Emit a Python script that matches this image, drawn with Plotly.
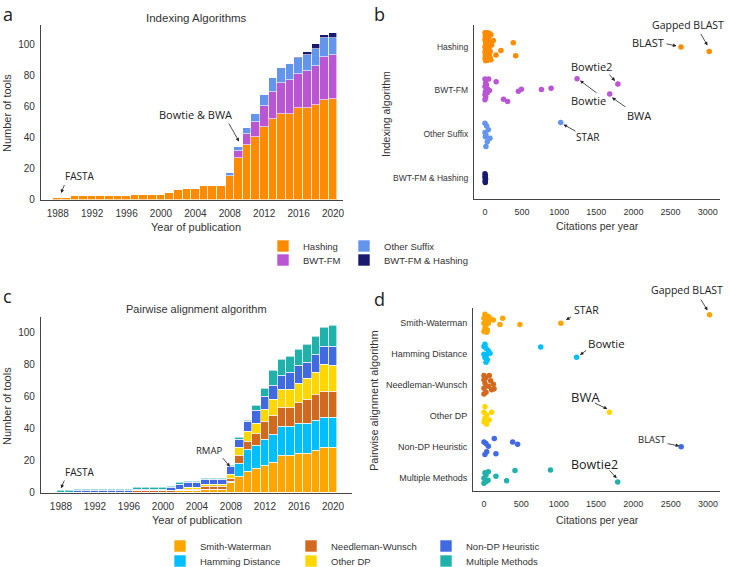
import plotly.graph_objects as go

W, H = 729, 567
FONT = "Liberation Sans, Arial, sans-serif"
AFONT = "Open Sans, Noto Sans, sans-serif"
TXT = "#333333"

years = list(range(1988, 2021))

# ---------------- Panel a: indexing algorithms (counts per year) -------------
idx_names = ["Hashing", "BWT-FM", "Other Suffix", "BWT-FM & Hashing"]
idx_colors = ["#FF8C00", "#BA55D3", "#6495ED", "#191970"]
a_hashing = [1, 1, 2, 2, 2, 2, 2, 2, 2, 3, 3, 3, 3, 4, 6, 7, 7, 9, 9, 9,
             15, 27, 35, 40, 47, 52, 55, 55, 59, 59, 61, 64, 65]
a_bwtfm = [0] * 20 + [0, 4, 7, 10, 13, 17, 20, 22, 22, 24, 25, 28, 28]
a_suffix = [0] * 20 + [2, 3, 4, 5, 7, 9, 10, 10, 10, 10, 11, 12, 11]
a_bwthash = [0] * 20 + [0, 0, 0, 0, 0, 0, 0, 0, 1, 2, 3, 2, 3]

# ---------------- Panel c: pairwise alignment (counts per year) --------------
pw_names = ["Smith-Waterman", "Hamming Distance", "Needleman-Wunsch",
            "Other DP", "Non-DP Heuristic", "Multiple Methods"]
pw_colors = ["#FFA500", "#00BFFF", "#D2691E", "#FFD700", "#4169E1", "#20B2AA"]
c_sw = [0] * 14 + [1, 1, 1, 2, 2, 2, 6, 10, 13, 15, 17, 19, 23, 23, 24, 24, 26, 28, 28]
c_ham = [0] * 20 + [1, 8, 14, 14, 16, 17, 18, 18, 19, 19, 19, 19, 19]
c_nw = [0] * 9 + [1] * 5 + [1] * 3 + [2] * 3 + [2, 5, 5, 8, 11, 12, 12, 12, 13, 15, 16, 16, 16]
c_odp = [0] * 15 + [1] * 2 + [1] * 3 + [2, 5, 6, 6, 8, 10, 11, 11, 12, 13, 14, 17, 16]
c_ndp = [0] * 2 + [1] * 11 + [2] + [3] * 6 + [5, 5, 6, 8, 8, 9, 9, 11, 11, 10, 11, 11, 12]
c_mult = [1] * 20 + [1, 1, 1, 3, 5, 9, 10, 10, 10, 11, 11, 12, 13]

# ---------------- Panel b: citations per year by indexing algorithm ----------
b_cats = ["BWT-FM & Hashing", "Other Suffix", "BWT-FM", "Hashing"]  # bottom -> top
b_hash_cit = [0, 18, 40, 62, 80, 5, 28, 50, 0, 20, 42, 112, 10, 35, 58, 0, 22, 48, 90,
              8, 30, 55, 215, 0, 20, 44, 70, 6, 32, 60, 148, 0, 18, 40, 66, 10, 35, 80,
              381, 413, 2640, 3020]
b_hash_jit = [.32, .31, .32, .3, .27, .24, .22, .23, .16, .15, .17, .14, .08, .07, .09,
              0, .02, -.01, .04, -.06, -.08, -.05, -.09, -.13, -.14, -.12, -.11,
              -.2, -.2, -.18, -.19, -.27, -.26, -.28, -.25, -.32, -.31, -.3,
              .09, -.21, -.01, -.11]
b_bwt_cit = [0, 50, 10, 150, 0, 15, 40, 60, 5, 0, 0, 20, 30, 10, 250, 305, 450, 490,
             760, 890, 1240, 1680, 1790]
b_bwt_jit = [.26, .26, .17, .2, .09, .06, .02, 0, -.03, -.1, -.21, .12, -.05, -.15,
             -.2, -.25, -.02, .03, .02, .05, .27, -.08, .15]
b_suf_cit = [0, 22, 45, 0, 13, 67, 31, 13, 5, 1020]
b_suf_jit = [.25, .19, .1, .04, -.02, -.09, -.17, -.28, -.06, .27]
b_bh_cit = [0, 5, 0, 8, 2, 4]
b_bh_jit = [.1, .06, .02, -.02, -.06, -.1]

# ---------------- Panel d: citations per year by pairwise algorithm ----------
d_cats = ["Multiple Methods", "Non-DP Heuristic", "Other DP",
          "Needleman-Wunsch", "Hamming Distance", "Smith-Waterman"]  # bottom -> top
d_sw_cit = [13, 58, 0, 36, 89, 0, 27, 58, 13, 45, 0, 36, 125, 250, 214, 481, 1030, 3020]
d_sw_jit = [.29, .22, .16, .11, .14, 0, -.05, 0, -.16, -.22, -.27, -.29, .11, .16,
            -.04, -.04, 0, .28]
d_ham_cit = [13, 0, 27, 58, 80, 0, 36, 13, 45, 27, 760, 1240]
d_ham_jit = [.32, .25, .19, .11, .03, 0, -.02, -.11, -.18, -.26, .23, -.1]
d_nw_cit = [0, 71, 0, 89, 13, 125, 58, 0, 103, 27, 0, 20, 135]
d_nw_jit = [.31, .31, .17, .14, .06, .03, -.04, -.1, -.15, -.23, -.29, .22, -.12]
d_odp_cit = [13, 0, 103, 36, 13, 71, 0, 36, 20, 1680]
d_odp_jit = [.3, .12, .12, .03, -.08, -.13, -.2, -.27, -.05, .12]
d_ndp_cit = [0, 26, 138, 58, 384, 450, 36, 13, 160, 2640]
d_ndp_jit = [.16, .11, .27, .02, .16, .08, -.16, -.25, -.22, 0]
d_mult_cit = [13, 58, 27, 0, 55, 0, 160, 415, 303, 890, 1790, 30]
d_mult_jit = [.16, .19, .09, -.02, -.08, -.18, .05, .23, -.1, .25, -.14, -.12]

fig = go.Figure()

# ---- bars panel a
a_series = [a_hashing, a_bwtfm, a_suffix, a_bwthash]
a_legends = ["legend", "legend2", "legend", "legend2"]
a_lw = [36, 36, 90, 90]
for name, vals, col, lg, lw in zip(idx_names, a_series, idx_colors, a_legends, a_lw):
    fig.add_trace(go.Bar(x=years, y=vals, name=name, width=1, legendwidth=lw,
                         marker=dict(color=col, line=dict(color="white", width=0.6)),
                         xaxis="x", yaxis="y", legend=lg, hoverinfo="skip"))

# ---- bars panel c
c_series = [c_sw, c_ham, c_nw, c_odp, c_ndp, c_mult]
c_legends = ["legend3", "legend4", "legend3", "legend4", "legend3", "legend4"]
c_lw = [86, 86, 90, 90, 100, 100]
for name, vals, col, lg, lw in zip(pw_names, c_series, pw_colors, c_legends, c_lw):
    fig.add_trace(go.Bar(x=years, y=vals, name=name, width=1, legendwidth=lw,
                         marker=dict(color=col, line=dict(color="white", width=0.6)),
                         xaxis="x3", yaxis="y3", legend=lg, hoverinfo="skip"))

# ---- strip plots
b_groups = [(b_bh_cit, b_bh_jit, idx_colors[3]), (b_suf_cit, b_suf_jit, idx_colors[2]),
            (b_bwt_cit, b_bwt_jit, idx_colors[1]), (b_hash_cit, b_hash_jit, idx_colors[0])]
for i, (cit, jit, col) in enumerate(b_groups):
    fig.add_trace(go.Scatter(x=cit, y=[i + j for j in jit], mode="markers",
                             marker=dict(color=col, size=5.5, line=dict(width=0)),
                             xaxis="x2", yaxis="y2", showlegend=False, hoverinfo="skip"))

d_groups = [(d_mult_cit, d_mult_jit, pw_colors[5]), (d_ndp_cit, d_ndp_jit, pw_colors[4]),
            (d_odp_cit, d_odp_jit, pw_colors[3]), (d_nw_cit, d_nw_jit, pw_colors[2]),
            (d_ham_cit, d_ham_jit, pw_colors[1]), (d_sw_cit, d_sw_jit, pw_colors[0])]
for i, (cit, jit, col) in enumerate(d_groups):
    fig.add_trace(go.Scatter(x=cit, y=[i + j for j in jit], mode="markers",
                             marker=dict(color=col, size=5.5, line=dict(width=0)),
                             xaxis="x4", yaxis="y4", showlegend=False, hoverinfo="skip"))


def PX(p):
    return p / W


def PY(p):
    return 1 - p / H


ax_common = dict(showline=True, linecolor="#444444", linewidth=1.3, showgrid=False,
                 zeroline=False, ticks="", fixedrange=True,
                 tickfont=dict(family=FONT, size=10, color=TXT))
small9 = {**ax_common, "tickfont": dict(family=FONT, size=9, color=TXT)}
small85 = {**ax_common, "tickfont": dict(family=FONT, size=8.5, color=TXT)}

fig.update_layout(
    width=W, height=H, margin=dict(l=0, r=0, t=0, b=0, autoexpand=False),
    paper_bgcolor="white", plot_bgcolor="white", barmode="stack", bargap=0,
    font=dict(family=FONT, color=TXT),
    xaxis=dict(domain=[PX(41), PX(343)], range=[1986.05, 2021.16], anchor="y",
               tickvals=list(range(1988, 2021, 4)), tickformat="d",
               ticklabelstandoff=4, **ax_common),
    yaxis=dict(domain=[PY(199.5), PY(25)], range=[0, 112.4], anchor="x",
               tickvals=[0, 20, 40, 60, 80, 100], ticklabelstandoff=3, **ax_common),
    xaxis2=dict(domain=[PX(474), PX(720)], range=[-148, 3165], anchor="y2",
                tickvals=[0, 500, 1000, 1500, 2000, 2500, 3000], tickformat="d",
                ticklabelstandoff=4, **small9),
    yaxis2=dict(domain=[PY(199.3), PY(25)], range=[-0.486, 3.495], anchor="x2",
                tickvals=[0, 1, 2, 3], ticktext=b_cats, ticklabelstandoff=3, **small85),
    xaxis3=dict(domain=[PX(41), PX(351.7)], range=[1985.65, 2022.2], anchor="y3",
                tickvals=list(range(1988, 2021, 4)), tickformat="d",
                ticklabelstandoff=4, **ax_common),
    yaxis3=dict(domain=[PY(492.7), PY(316.7)], range=[0, 109.7], anchor="x3",
                tickvals=[0, 20, 40, 60, 80, 100], ticklabelstandoff=3, **ax_common),
    xaxis4=dict(domain=[PX(473.3), PX(720)], range=[-143, 3160], anchor="y4",
                tickvals=[0, 500, 1000, 1500, 2000, 2500, 3000], tickformat="d",
                ticklabelstandoff=4, **small9),
    yaxis4=dict(domain=[PY(491), PY(308.3)], range=[-0.43, 5.485], anchor="x4",
                tickvals=[0, 1, 2, 3, 4, 5], ticktext=d_cats, ticklabelstandoff=3, **small9),
)

leg_common = dict(orientation="h", xanchor="left", yanchor="middle",
                  font=dict(family=FONT, size=9.5, color=TXT), bgcolor="rgba(0,0,0,0)",
                  entrywidthmode="pixels", itemwidth=30, traceorder="normal",
                  itemclick=False, itemdoubleclick=False)
fig.update_layout(
    legend=dict(x=PX(263), y=PY(246), **leg_common),
    legend2=dict(x=PX(263), y=PY(260), **leg_common),
    legend3=dict(x=PX(160), y=PY(546), **leg_common),
    legend4=dict(x=PX(160), y=PY(561), **leg_common),
)

annos = []


def text(x, y, s, size, family=AFONT, color="#222222", angle=0, yanchor="middle"):
    annos.append(dict(x=PX(x), y=PY(y), xref="paper", yref="paper", text=s,
                      showarrow=False, textangle=angle, xanchor="center", yanchor=yanchor,
                      font=dict(family=family, size=size, color=color)))


def arrow(tx, ty, hx, hy):
    annos.append(dict(x=PX(hx), y=PY(hy), xref="paper", yref="paper", text="",
                      showarrow=True, ax=tx - hx, ay=ty - hy, arrowhead=2, arrowsize=0.9,
                      arrowwidth=0.8, arrowcolor="#222222", standoff=0, startstandoff=0))


# panel letters
text(8, 0, "a", 18, yanchor="top")
text(379, 0, "b", 18, yanchor="top")
text(8, 282, "c", 18, yanchor="top")
text(379, 285, "d", 18, yanchor="top")

# titles & axis titles
text(196, 18, "Indexing Algorithms", 11.5, FONT, TXT)
text(196.5, 309, "Pairwise alignment algorithm", 11, FONT, TXT)
text(196, 226.5, "Year of publication", 11, FONT, TXT)
text(196.5, 519.5, "Year of publication", 11, FONT, TXT)
text(7, 113, "Number of tools", 11, FONT, TXT, -90)
text(7, 406, "Number of tools", 11, FONT, TXT, -90)
text(597, 225.5, "Citations per year", 10.5, FONT, TXT)
text(597, 519.5, "Citations per year", 10.5, FONT, TXT)
text(386, 114, "Indexing algorithm", 10.5, FONT, TXT, -90)
text(374, 401, "Pairwise alignment algorithm", 11, FONT, TXT, -90)

# panel a labels
text(79, 176.5, "FASTA", 10)
arrow(65, 183.5, 61, 193)
text(195, 114, "Bowtie &amp; BWA", 11)
arrow(228, 122, 239, 141.5)

# panel c labels
text(79, 471.7, "FASTA", 10)
arrow(65, 479, 61, 488.3)
text(209, 450.5, "RMAP", 9.5)
arrow(221.5, 456.5, 230, 466.7)

# panel b labels
text(688, 25, "Gapped BLAST", 10.5)
arrow(700, 32.5, 707.5, 45.5)
text(647.5, 42.7, "BLAST", 11)
arrow(665, 43.5, 676.5, 46)
text(591, 66, "Bowtie2", 11)
arrow(608, 73, 615, 81)
text(588, 101, "Bowtie", 11)
arrow(598, 94, 580, 80.5)
text(639, 115, "BWA", 11)
arrow(627, 108, 612, 97.5)
text(588, 137, "STAR", 10)
arrow(577, 132, 563.5, 124.5)

# panel d labels
text(687, 289.5, "Gapped BLAST", 10.5)
arrow(700, 298, 707.5, 310.5)
text(586, 310.2, "STAR", 10.5)
arrow(572.7, 316, 566, 320)
text(606, 343.8, "Bowtie", 11.5)
arrow(587.7, 349.3, 580, 355)
text(585, 396.7, "BWA", 13)
arrow(593.3, 402.3, 607.3, 409)
text(652, 439.5, "BLAST", 9.5)
arrow(666, 443.3, 679.3, 446)
text(594, 464.3, "Bowtie2", 12.5)
arrow(608.3, 469, 616.7, 478.3)

fig.update_layout(annotations=annos)

fig.write_html("out.html", config={"displayModeBar": False},
               post_script="document.body.style.margin='0px';"
                           "document.body.style.overflow='hidden';")
